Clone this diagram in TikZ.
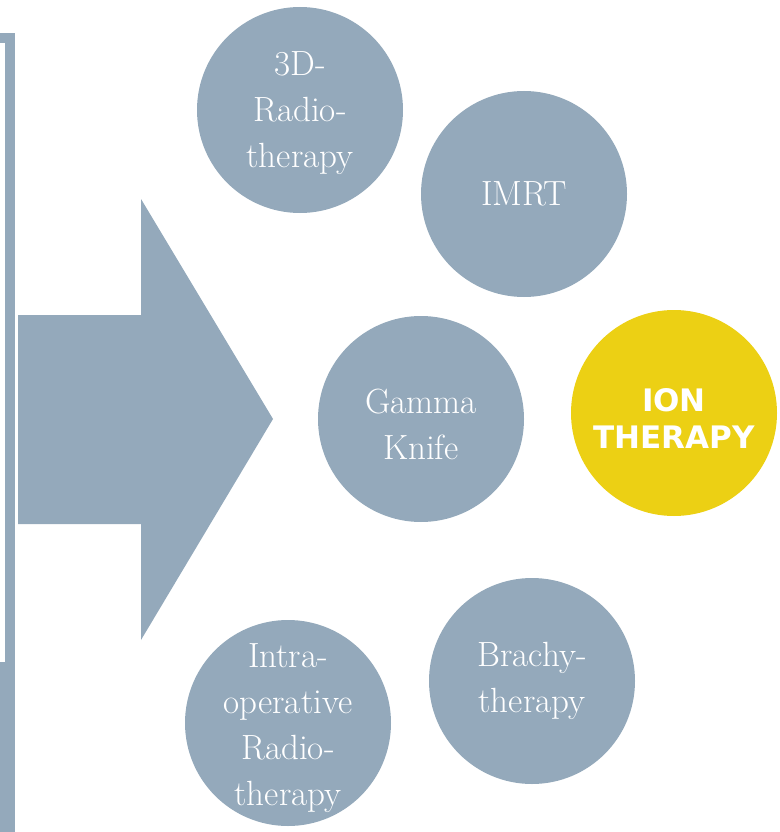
\documentclass[tikz,border=0pt]{standalone}
\usepackage{fontspec}
\newfontfamily\ionfont{DejaVu Sans}
\definecolor{slate}{RGB}{148,169,187}
\definecolor{iony}{RGB}{236,208,20}
\begin{document}
\begin{tikzpicture}[x=1pt,y=-1pt,
  disc/.style={circle,fill=slate,minimum size=206pt,inner sep=0pt,text=white,align=center,
    font=\fontsize{35}{46}\selectfont},
  discfill/.style={circle,fill=slate,minimum size=206pt,inner sep=0pt},
  disctext/.style={text=white,align=center,font=\fontsize{35}{46}\selectfont},
  iondisc/.style={circle,fill=iony,minimum size=206pt,inner sep=0pt}]
\useasboundingbox (0,0) rectangle (779,832);
% left frame
\fill[slate] (0,33) rectangle (15,43);
\fill[slate] (5,33) rectangle (15,832);
\fill[slate] (0,662) rectangle (15,832);
% block arrow
\fill[slate] (18,315) -- (141,315) -- (141,199) -- (273,419) -- (141,640) -- (141,524) -- (18,524) -- cycle;
% circles
\node[discfill] (rad3d) at (300,110) {};
\node[disctext] (rad3dtext) at (300,113) {3D-\\Radio-\\therapy};
\node[disc] (imrt) at (524,194) {IMRT};
\node[discfill] (gamma) at (421,419) {};
\node[disctext] (gammatext) at (421,424) {Gamma\\Knife};
\node[iondisc] (ion) at (674,413) {};
\node[text=white,align=center,font=\ionfont\bfseries\fontsize{31}{37}\selectfont] (iontext) at (674,418) {ION\\THERAPY};
\node[disc] (brachy) at (532,681) {Brachy-\\therapy};
\node[discfill] (intra) at (288,723) {};
\node[disctext] (intratext) at (288,728) {Intra-\\operative\\Radio-\\therapy};
\end{tikzpicture}
\end{document}
